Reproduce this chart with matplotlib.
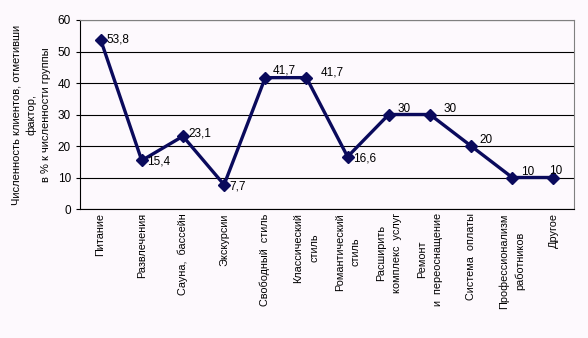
import numpy as np
import matplotlib.pyplot as plt

plt.rcParams['font.family'] = ['Liberation Sans', 'DejaVu Sans']

categories = ['Питание', 'Развлечения', 'Сауна,  бассейн', 'Экскурсии',
              'Свободный  стиль', 'Классический\nстиль', 'Романтический\nстиль',
              'Расширить\nкомплекс  услуг', 'Ремонт\nи  переоснащение',
              'Система  оплаты', 'Профессионализм\nработников', 'Другое']
values = [53.8, 15.4, 23.1, 7.7, 41.7, 41.7, 16.6, 30, 30, 20, 10, 10]
value_labels = ['53,8', '15,4', '23,1', '7,7', '41,7', '41,7', '16,6', '30', '30', '20', '10', '10']
# label offsets in points
offsets = [(4, 0), (4, -1), (4, 2), (4, -1), (5, 5), (10, 4), (4, -1), (6, 4), (10, 4), (6, 4), (6, 4), (-3, 5)]

bg = '#FDF9FD'
navy = '#0A0A5C'

fig = plt.figure(figsize=(5.88, 3.38), dpi=100, facecolor=bg)
ax = fig.add_axes([80 / 588, 1 - 209 / 338, 494 / 588, 189 / 338])
ax.set_facecolor(bg)

x = np.arange(len(values))
ax.plot(x, values, color=navy, lw=2.4, marker='D', ms=6.5, zorder=3)
for i, v in enumerate(values):
    ax.annotate(value_labels[i], (x[i], v), xytext=offsets[i], textcoords='offset points',
                fontsize=8.5, ha='left', va='center', color='black')

ax.set_xlim(-0.5, len(values) - 0.5)
ax.set_ylim(0, 60)
ax.set_yticks(range(0, 61, 10))
ax.yaxis.grid(True, color='black', lw=0.8)
ax.set_axisbelow(True)
ax.tick_params(axis='y', labelsize=8.5, length=3, direction='out')
ax.set_xticks(x)
ax.set_xticklabels(categories, rotation=90, fontsize=7.8, linespacing=1.7,
                   ha='center', va='top')
ax.tick_params(axis='x', length=0, pad=3)
for s in ['top', 'right']:
    ax.spines[s].set_color('#808080')
ax.spines['left'].set_color('black')
ax.spines['bottom'].set_color('black')

ax.set_ylabel('Численность клиентов, отметивши\nфактор,\nв % к численности группы',
              fontsize=8, linespacing=1.55, labelpad=5)

fig.savefig('out.png', dpi=100, facecolor=bg)
